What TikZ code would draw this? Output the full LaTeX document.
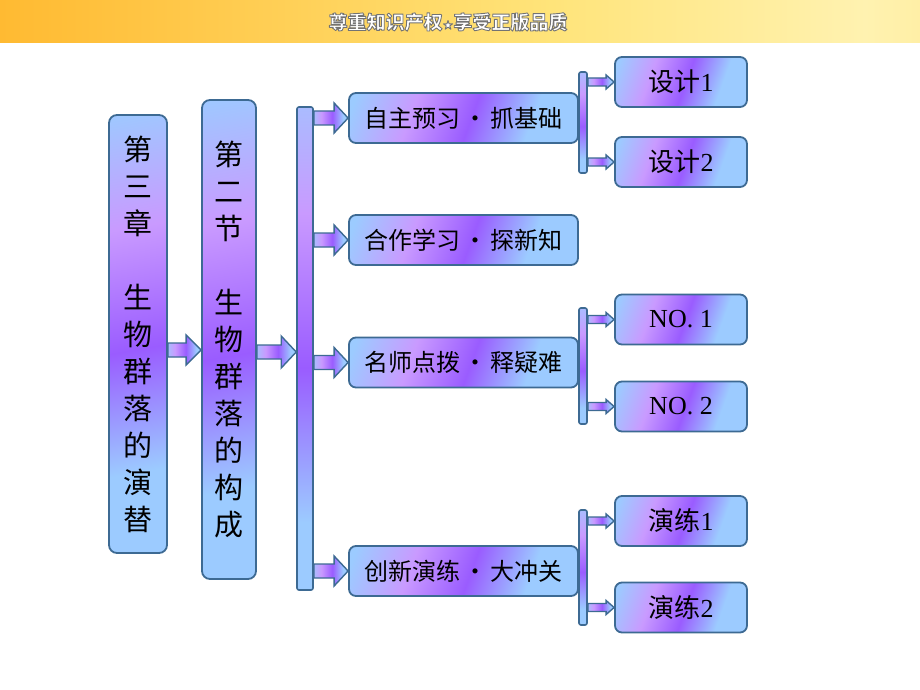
\documentclass[tikz,border=0pt]{standalone}
\usepackage{fontspec}
\setmainfont{Liberation Serif}
\newfontfamily\cjk{Noto Sans CJK SC}
\newfontfamily\symb{DejaVu Sans}
\usepackage{xcolor}
\usepackage{tikz}
\usetikzlibrary{calc}
\definecolor{edgeblue}{HTML}{3D6A93}
\definecolor{skyb}{HTML}{9CCBFF}
\definecolor{lavb}{HTML}{D2C8FF}
\definecolor{pinkp}{HTML}{C99AFF}
\definecolor{violp}{HTML}{9A5CFF}
\definecolor{orangeA}{HTML}{FF9A00}
\definecolor{orangeB}{HTML}{FFBE38}
\definecolor{yellowA}{HTML}{FFE47A}
\definecolor{yellowB}{HTML}{FFF2B0}
\definecolor{yellowC}{HTML}{FFD650}
\pgfdeclarehorizontalshading{stripe}{100bp}{color(0bp)=(skyb); color(20bp)=(skyb); color(36bp)=(pinkp); color(52bp)=(violp); color(68bp)=(skyb); color(86bp)=(skyb); color(100bp)=(lavb)}
\pgfdeclarehorizontalshading{sunband}{100bp}{color(0bp)=(orangeA); color(28bp)=(orangeB); color(55bp)=(yellowA); color(72bp)=(yellowB); color(100bp)=(yellowC)}
\tikzstyle{chapter} = [rectangle, rounded corners=8pt, draw=edgeblue, line width=1.8pt, shading=stripe, shading angle=-80, align=center, inner sep=0pt, font=\cjk\fontsize{29pt}{37pt}\selectfont]
\tikzstyle{spinebar} = [rectangle, rounded corners=2pt, draw=edgeblue, line width=1.6pt, shading=stripe, shading angle=-90, inner sep=0pt]
\tikzstyle{lesson} = [rectangle, rounded corners=7pt, draw=edgeblue, line width=1.8pt, shading=stripe, shading angle=-20, minimum width=229pt, minimum height=50pt, inner sep=0pt, text centered, font=\cjk\fontsize{24pt}{24pt}\selectfont]
\tikzstyle{leaf} = [lesson, minimum width=132pt, font=\fontsize{26pt}{26pt}\selectfont]
\tikzstyle{arrowfill} = [draw=edgeblue, line width=1.4pt, shading=stripe, shading angle=0, line join=miter]
\newcommand\bigarrow[5]{\path[arrowfill] let \p1=(#1), \p2=(#2) in (\x1,\y1+#3) -- (\x2-#5,\y1+#3) -- (\x2-#5,\y1+#4) -- (\x2,\y1) -- (\x2-#5,\y1-#4) -- (\x2-#5,\y1-#3) -- (\x1,\y1-#3) -- cycle;}
\newcommand\haloed[1]{{\color{white}\special{pdf:literal direct 0.45 G 0.9 w 1 j 2 Tr}#1\special{pdf:literal direct 0 Tr}}}
\newcommand\dotsep{\hspace{0.12em}・\hspace{0.12em}}

\begin{document}
\begin{tikzpicture}[x=1pt,y=-1pt]
\useasboundingbox (0,0) rectangle (920,690);
\fill[white] (0,0) rectangle (920,690);
\node (band) [rectangle, shading=sunband, minimum width=920pt, minimum height=42pt, inner sep=0pt, anchor=north west] at (0,0) {};
\node (motto) [font=\cjk\bfseries\fontsize{19pt}{19pt}\selectfont] at (448,22) {\haloed{尊重知识产权{\symb\fontsize{12pt}{12pt}\selectfont ★}享受正版品质}};

\node (chap) [chapter, minimum width=58pt, minimum height=438pt] at (138,334) {第\\三\\章\\~\\生\\物\\群\\落\\的\\演\\替};
\node (sect) [chapter, minimum width=54pt, minimum height=479pt] at (229,339.5) {第\\二\\节\\~\\生\\物\\群\\落\\的\\构\\成};
\node (spine) [spinebar, minimum width=16pt, minimum height=483pt] at (305,348.5) {};

\node (zizhu) [lesson] at (463.5,118) {自主预习\dotsep 抓基础};
\node (hezuo) [lesson] at (463.5,240) {合作学习\dotsep 探新知};
\node (mingshi) [lesson] at (463.5,362.5) {名师点拨\dotsep 释疑难};
\node (chuangxin) [lesson] at (463.5,571) {创新演练\dotsep 大冲关};

\node (rib1) [spinebar, minimum width=8pt, minimum height=101pt] at (583,122.5) {};
\node (rib2) [spinebar, minimum width=8pt, minimum height=116pt] at (583,366) {};
\node (rib3) [spinebar, minimum width=8pt, minimum height=115pt] at (583,567.5) {};

\node (sheji1) [leaf] at (681,82) {{\cjk 设计}1};
\node (sheji2) [leaf] at (681,162) {{\cjk 设计}2};
\node (no1) [leaf] at (681,319.5) {NO. 1};
\node (no2) [leaf] at (681,406.5) {NO. 2};
\node (yanlian1) [leaf] at (681,521) {{\cjk 演练}1};
\node (yanlian2) [leaf] at (681,607.5) {{\cjk 演练}2};

\bigarrow{$(chap.east)+(0,16)$}{sect.west}{7pt}{15pt}{15pt}
\bigarrow{$(sect.east)+(0,12.5)$}{spine.west}{7pt}{16pt}{15pt}
\bigarrow{spine.east|-zizhu.west}{zizhu.west}{7pt}{15pt}{14pt}
\bigarrow{spine.east|-hezuo.west}{hezuo.west}{7pt}{15pt}{14pt}
\bigarrow{spine.east|-mingshi.west}{mingshi.west}{7pt}{15pt}{14pt}
\bigarrow{spine.east|-chuangxin.west}{chuangxin.west}{7pt}{15pt}{14pt}
\bigarrow{rib1.east|-sheji1.west}{sheji1.west}{4pt}{7pt}{8pt}
\bigarrow{rib1.east|-sheji2.west}{sheji2.west}{4pt}{7pt}{8pt}
\bigarrow{rib2.east|-no1.west}{no1.west}{4pt}{7pt}{8pt}
\bigarrow{rib2.east|-no2.west}{no2.west}{4pt}{7pt}{8pt}
\bigarrow{rib3.east|-yanlian1.west}{yanlian1.west}{4pt}{7pt}{8pt}
\bigarrow{rib3.east|-yanlian2.west}{yanlian2.west}{4pt}{7pt}{8pt}
\end{tikzpicture}
\end{document}
